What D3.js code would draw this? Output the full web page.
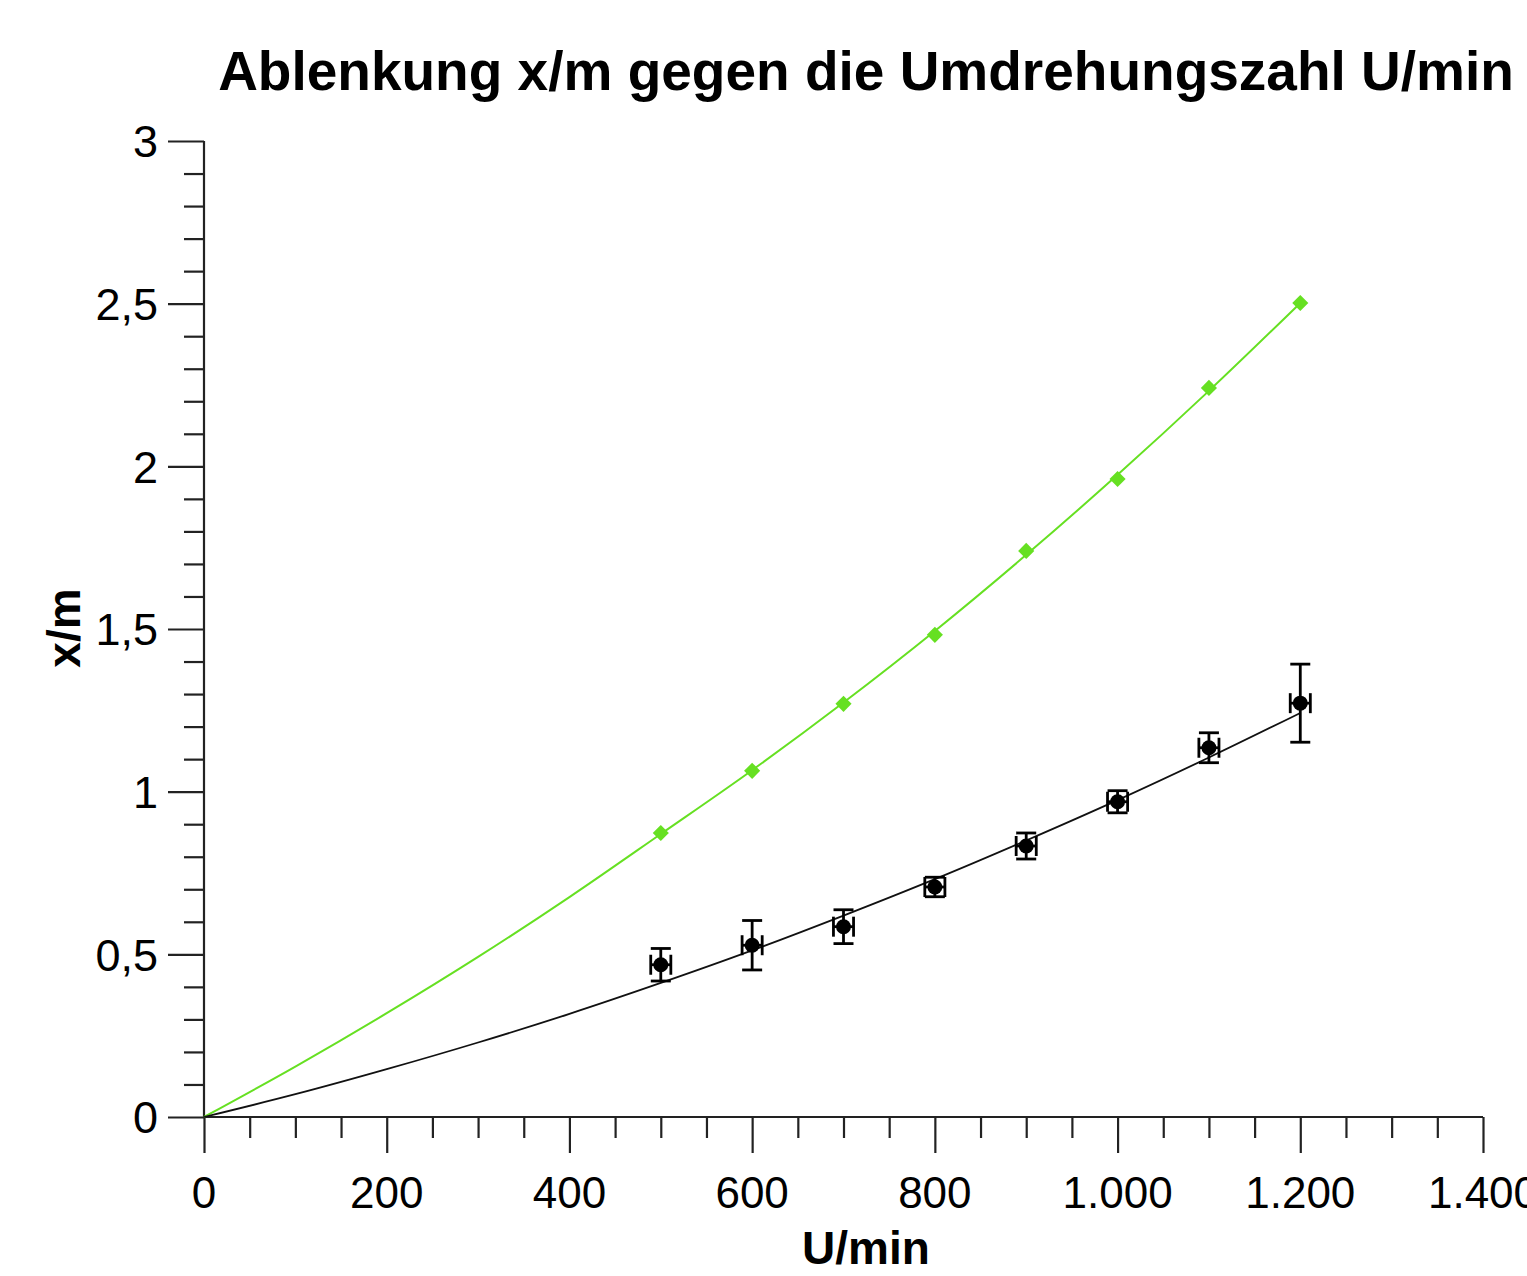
<!DOCTYPE html>
<html>
<head>
<meta charset="utf-8">
<script src="https://cdn.jsdelivr.net/npm/d3@7"></script>
<style>
  body { margin: 0; background: #fff; }
  text { font-family: "Liberation Sans", Arial, Helvetica, sans-serif; }
</style>
</head>
<body>
<div class="svg-container"></div>
<script>
// measured values (U/min)
const rpm = [500, 600, 700, 800, 900, 1000, 1100, 1200];
const measured = [0.468, 0.528, 0.585, 0.707, 0.833, 0.969, 1.135, 1.272];
const measuredErr = [0.05, 0.076, 0.052, 0.03, 0.04, 0.034, 0.046, 0.12];
const rpmErr = [11, 11, 11, 11, 11, 11, 11, 11];
const theory = [0.873, 1.064, 1.27, 1.482, 1.74, 1.961, 2.241, 2.502];

// fit curves
const fitX = [0, 100, 200, 300, 400, 500, 600, 700, 800, 900, 1000, 1100, 1200];
const fitMeasured = [0, 0.07, 0.147, 0.229, 0.317, 0.412, 0.512, 0.619, 0.731, 0.85, 0.974, 1.105, 1.242];
const fitTheory = [0, 0.155, 0.319, 0.492, 0.676, 0.87, 1.066, 1.274, 1.494, 1.728, 1.974, 2.232, 2.502];

const xTicks = [0, 200, 400, 600, 800, 1000, 1200, 1400];
const yTicks = [0, 0.5, 1, 1.5, 2, 2.5, 3];

const render = () => {
  const width = 1527;
  const height = 1276;
  const green = '#66e022';

  const svg = d3.select('.svg-container')
    .append('svg')
    .attr('width', width)
    .attr('height', height);

  const x = d3.scaleLinear().domain([0, 1400]).range([204, 1483]);
  const y = d3.scaleLinear().domain([0, 3]).range([1117, 141]);

  const fmtX = d3.formatLocale({ decimal: ',', thousands: '.', grouping: [3], currency: ['', ''] }).format(',');
  const fmtY = d => String(d).replace('.', ',');

  // title
  svg.append('text')
    .attr('x', 866)
    .attr('y', 90)
    .attr('text-anchor', 'middle')
    .style('font-size', '55px')
    .style('font-weight', 'bold')
    .text('Ablenkung x/m gegen die Umdrehungszahl U/min');

  // x axis
  const xAxis = svg.append('g')
    .attr('transform', `translate(0,${y(0)})`);
  xAxis.call(d3.axisBottom(x).tickValues(d3.range(0, 1401, 50)).tickSize(21).tickFormat(''));
  xAxis.selectAll('.tick')
    .filter(d => d % 200 === 0)
    .select('line').attr('y2', 36);
  xAxis.select('.domain').attr('d', `M${x(0)},0H${x(1400)}`);
  xAxis.selectAll('line, path').attr('stroke', '#222').attr('stroke-width', 2.2);

  svg.append('g').selectAll('text')
    .data(xTicks)
    .enter().append('text')
    .attr('x', d => x(d))
    .attr('y', 1208)
    .attr('text-anchor', 'middle')
    .style('font-size', '44px')
    .text(d => fmtX(d));

  // y axis
  const yAxis = svg.append('g')
    .attr('transform', `translate(${x(0)},0)`);
  yAxis.call(d3.axisLeft(y).tickValues(d3.range(0, 31).map(i => i / 10)).tickSize(20).tickFormat(''));
  yAxis.selectAll('.tick')
    .filter(d => Math.round(d * 10) % 5 === 0)
    .select('line').attr('x2', -36);
  yAxis.select('.domain').attr('d', `M0,${y(0)}V${y(3)}`);
  yAxis.selectAll('line, path').attr('stroke', '#222').attr('stroke-width', 2.2);

  svg.append('g').selectAll('text')
    .data(yTicks)
    .enter().append('text')
    .attr('x', 158)
    .attr('y', d => y(d))
    .attr('dy', '0.36em')
    .attr('text-anchor', 'end')
    .style('font-size', '45px')
    .text(d => fmtY(d));

  // axis labels
  svg.append('text')
    .attr('x', 866)
    .attr('y', 1264)
    .attr('text-anchor', 'middle')
    .style('font-size', '46px')
    .style('font-weight', 'bold')
    .text('U/min');

  svg.append('text')
    .attr('transform', 'translate(80,628) rotate(-90)')
    .attr('text-anchor', 'middle')
    .style('font-size', '46px')
    .style('font-weight', 'bold')
    .text('x/m');

  // fit curves
  const line = d3.line()
    .x(d => x(d[0]))
    .y(d => y(d[1]))
    .curve(d3.curveMonotoneX);

  svg.append('path')
    .attr('d', line(d3.zip(fitX, fitTheory)))
    .attr('fill', 'none')
    .attr('stroke', green)
    .attr('stroke-width', 2);

  svg.append('path')
    .attr('d', line(d3.zip(fitX, fitMeasured)))
    .attr('fill', 'none')
    .attr('stroke', '#111')
    .attr('stroke-width', 1.8);

  // theory markers (diamonds)
  svg.append('g').selectAll('path')
    .data(d3.zip(rpm, theory))
    .enter().append('path')
    .attr('d', d3.symbol(d3.symbolSquare, 130))
    .attr('transform', d => `translate(${x(d[0])},${y(d[1])}) rotate(45)`)
    .attr('fill', green);

  // measured points with error bars
  const cap = 10;
  const pts = svg.append('g')
    .selectAll('g')
    .data(rpm.map((r, i) => ({ r, v: measured[i], ev: measuredErr[i], er: rpmErr[i] })))
    .enter().append('g')
    .attr('stroke', '#000')
    .attr('stroke-width', 2.8);

  // vertical bar + caps
  pts.append('line')
    .attr('x1', d => x(d.r)).attr('x2', d => x(d.r))
    .attr('y1', d => y(d.v - d.ev)).attr('y2', d => y(d.v + d.ev));
  pts.append('line')
    .attr('x1', d => x(d.r) - cap).attr('x2', d => x(d.r) + cap)
    .attr('y1', d => y(d.v - d.ev)).attr('y2', d => y(d.v - d.ev));
  pts.append('line')
    .attr('x1', d => x(d.r) - cap).attr('x2', d => x(d.r) + cap)
    .attr('y1', d => y(d.v + d.ev)).attr('y2', d => y(d.v + d.ev));

  // horizontal bar + caps
  pts.append('line')
    .attr('x1', d => x(d.r - d.er)).attr('x2', d => x(d.r + d.er))
    .attr('y1', d => y(d.v)).attr('y2', d => y(d.v));
  pts.append('line')
    .attr('x1', d => x(d.r - d.er)).attr('x2', d => x(d.r - d.er))
    .attr('y1', d => y(d.v) - cap).attr('y2', d => y(d.v) + cap);
  pts.append('line')
    .attr('x1', d => x(d.r + d.er)).attr('x2', d => x(d.r + d.er))
    .attr('y1', d => y(d.v) - cap).attr('y2', d => y(d.v) + cap);

  pts.append('circle')
    .attr('cx', d => x(d.r))
    .attr('cy', d => y(d.v))
    .attr('r', 7.5)
    .attr('stroke', 'none')
    .attr('fill', '#000');
};

render();
</script>
</body>
</html>
